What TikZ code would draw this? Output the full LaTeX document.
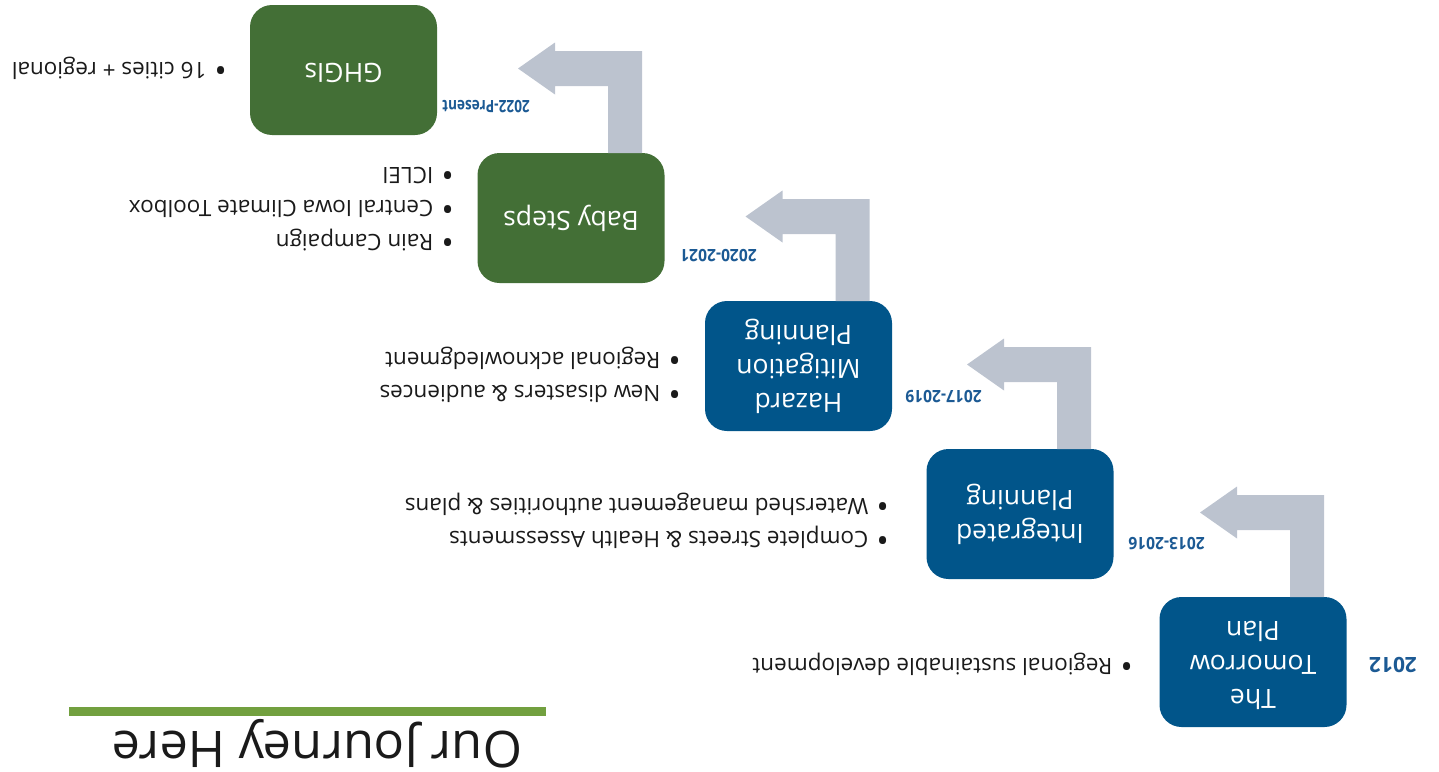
\documentclass[tikz,border=0pt]{standalone}
\usepackage{fontspec}
\setmainfont{Open Sans}
\usetikzlibrary{calc}
\definecolor{boxblue}{HTML}{01558A}
\definecolor{boxgreen}{HTML}{436F36}
\definecolor{arrowgray}{HTML}{BCC3CF}
\definecolor{yearblue}{HTML}{1C5A94}
\definecolor{bargreen}{HTML}{72A03F}
\definecolor{txtcol}{HTML}{1A1A1A}
\newcommand{\bul}{{\fontsize{33}{33}\selectfont\raisebox{-3.4pt}{\textbullet}}\hspace{8pt}}
\begin{document}
\begin{tikzpicture}[x=1pt,y=-1pt,
  stage/.style={rounded corners=22pt, minimum width=187pt, minimum height=130pt,
    inner sep=0pt, text=white, align=center, rotate=180,
    font=\fontsize{26.5}{34}\selectfont},
  bluestage/.style={stage, fill=boxblue},
  greenstage/.style={stage, fill=boxgreen},
  bullets/.style={rotate=180, anchor=west, inner sep=0pt, align=left, text=txtcol,
    font=\fontsize{22.5}{33.5}\selectfont},
  year/.style={rotate=180, anchor=west, inner sep=0pt, text=yearblue,
    font=\fontsize{17}{20}\selectfont\bfseries},
  bentarrow/.style={fill=arrowgray, draw=none}]
\useasboundingbox (0,0) rectangle (1439,771);

% stages
\node[bluestage]  (b1) at (1253,662)   {\strut The\\\strut Tomorrow\\\strut Plan};
\node[bluestage]  (b2) at (1020,514)   {\strut Integrated\\\strut Planning};
\node[bluestage]  (b3) at (798.5,366)  {\strut Hazard\\\strut Mitigation\\\strut Planning};
\node[greenstage] (b4) at (571,218)    {\strut Baby Steps};
\node[greenstage] (b5) at (343.5,70)   {\strut GHGIs};

% bent arrows
\foreach \b in {b1,b2,b3,b4} {
  \fill[bentarrow] ($(\b.center)+(71,-65)$) -- ($(\b.center)+(71,-167)$)
    -- ($(\b.center)+(-16,-167)$) -- ($(\b.center)+(-16,-175.5)$)
    -- ($(\b.center)+(-53,-149.5)$) -- ($(\b.center)+(-16,-123.5)$)
    -- ($(\b.center)+(-16,-132)$) -- ($(\b.center)+(37,-132)$)
    -- ($(\b.center)+(37,-65)$) -- cycle;
}

% years
\node[rotate=180, inner sep=0pt, text=yearblue, font=\fontsize{21}{25}\selectfont\bfseries] (y1) at (1393,665) {2012};
\node[year] (y2) at (1205,543.5) {\scalebox{0.92}[1]{2013-2016}};
\node[year] (y3) at (982,396.5) {\scalebox{0.92}[1]{2017-2019}};
\node[year] (y4) at (757,256) {\scalebox{0.92}[1]{2020-2021}};
\node[year] (y5) at (530,106.5) {\scalebox{0.8}[1]{2022-Present}};

% bullet lists
\node[bullets] (l1) at (1133,665) {\strut\bul Regional sustainable development};
\node[bullets] (l2) at (889,521.5) {\strut\bul Complete Streets \& Health Assessments\\\strut\bul Watershed management authorities \& plans};
\node[bullets] (l3) at (681,375.5) {\strut\bul New disasters \& audiences\\\strut\bul Regional acknowledgment};
\node[bullets] (l4) at (454,207.5) {\strut\bul Rain Campaign\\\strut\bul Central Iowa Climate Toolbox\\\strut\bul ICLEI};
\node[bullets] (l5) at (227,69) {\strut\bul 16 cities + regional};

% title
\fill[bargreen] (69,707) rectangle (546,716);
\node[rotate=180, anchor=base, inner sep=0pt, text=txtcol, font=\fontsize{50.5}{60}\selectfont] (title) at (317,731) {Our Journey Here};
\end{tikzpicture}
\end{document}
